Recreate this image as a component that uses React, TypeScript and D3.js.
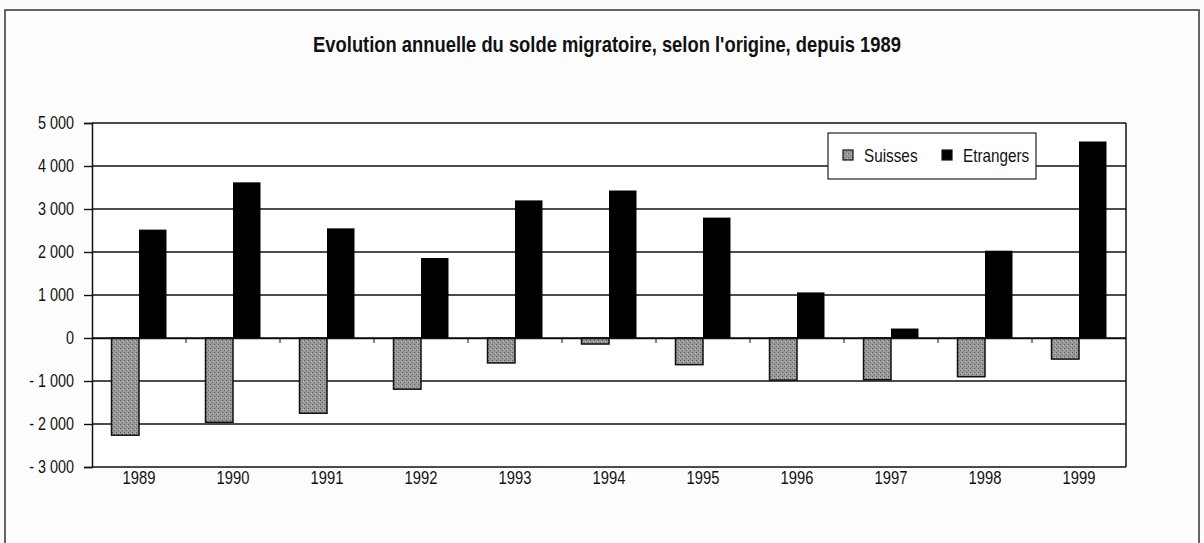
import { useEffect, useRef } from "react";
import * as d3 from "d3";

const years = ["1989", "1990", "1991", "1992", "1993", "1994", "1995", "1996", "1997", "1998", "1999"];
const suisses = [-2260, -1960, -1750, -1190, -580, -140, -620, -980, -970, -900, -490];
const etrangers = [2520, 3620, 2550, 1860, 3200, 3430, 2800, 1060, 220, 2030, 4570];
const yTicks = [5000, 4000, 3000, 2000, 1000, 0, -1000, -2000, -3000];
const seriesNames = ["Suisses", "Etrangers"];

const FONT = "'Liberation Sans', Arial, sans-serif";

const formatTick = (v: number) => {
  const s = d3.format(",")(Math.abs(v)).replace(/,/g, " ");
  return v < 0 ? "- " + s : s;
};

const App = () => {
  const svgRef = useRef<SVGSVGElement | null>(null);

  useEffect(() => {
    const W = 1204;
    const H = 543;
    const plot = { left: 92, right: 1126, top: 123, bottom: 467 };

    const svg = d3.select(svgRef.current).attr("width", W).attr("height", H);
    svg.selectAll("*").remove();

    // narrow text: the original uses a condensed face, squeeze Liberation Sans instead
    const narrow = (g: any, x: number, y: number, txt: string, size: number, sx: number, anchor = "start", bold = false) =>
      g
        .append("text")
        .attr("transform", `translate(${x},${y}) scale(${sx},1)`)
        .attr("text-anchor", anchor)
        .attr("font-family", FONT)
        .attr("font-weight", bold ? "bold" : "normal")
        .attr("font-size", size)
        .attr("fill", "#111")
        .text(txt);

    // stippled grey for Suisses
    const defs = svg.append("defs");
    const pat = defs
      .append("pattern")
      .attr("id", "stipple")
      .attr("width", 4)
      .attr("height", 4)
      .attr("patternUnits", "userSpaceOnUse");
    pat.append("rect").attr("width", 4).attr("height", 4).attr("fill", "#9a9a9a");
    pat.append("rect").attr("x", 0).attr("y", 0).attr("width", 1).attr("height", 1).attr("fill", "#5a5a5a");
    pat.append("rect").attr("x", 2).attr("y", 2).attr("width", 1).attr("height", 1).attr("fill", "#6a6a6a");
    pat.append("rect").attr("x", 3).attr("y", 1).attr("width", 1).attr("height", 1).attr("fill", "#c4c4c4");

    svg.append("rect").attr("width", W).attr("height", H).attr("fill", "#fbfbfb");

    // outer chart frame
    svg
      .append("rect")
      .attr("x", 5)
      .attr("y", 10)
      .attr("width", 1194)
      .attr("height", 560)
      .attr("fill", "#fdfdfd")
      .attr("stroke", "#333")
      .attr("stroke-width", 1.5);

    narrow(svg, 607, 52, "Evolution annuelle du solde migratoire, selon l'origine, depuis 1989", 22, 0.835, "middle", true);

    const x = d3.scaleBand().domain(years).range([plot.left, plot.right]).paddingInner(0).paddingOuter(0);
    const inner = d3
      .scaleBand()
      .domain(seriesNames)
      .range([0, x.bandwidth()])
      .paddingOuter(0.71)
      .paddingInner(0);
    const y = d3.scaleLinear().domain([-3000, 5000]).range([plot.bottom, plot.top]);

    svg
      .append("rect")
      .attr("x", plot.left)
      .attr("y", plot.top)
      .attr("width", plot.right - plot.left)
      .attr("height", plot.bottom - plot.top)
      .attr("fill", "#fff");

    // gridlines
    svg
      .append("g")
      .selectAll("line")
      .data(yTicks)
      .join("line")
      .attr("x1", plot.left)
      .attr("x2", plot.right)
      .attr("y1", (d) => y(d))
      .attr("y2", (d) => y(d))
      .attr("stroke", "#111")
      .attr("stroke-width", 1.4);

    // y axis
    const yAxis = svg
      .append("g")
      .attr("transform", `translate(${plot.left},0)`)
      .call(d3.axisLeft(y).tickValues(yTicks).tickFormat(() => "").tickSize(8));
    yAxis.select(".domain").attr("stroke", "#111").attr("stroke-width", 1.5);
    yAxis.selectAll(".tick line").attr("stroke", "#111").attr("stroke-width", 1.4);
    const yLab = svg.append("g");
    yTicks.forEach((t) => narrow(yLab, 74, y(t) + 6, formatTick(t), 18, 0.8, "end"));

    // right plot border
    svg
      .append("line")
      .attr("x1", plot.right)
      .attr("x2", plot.right)
      .attr("y1", plot.top)
      .attr("y2", plot.bottom)
      .attr("stroke", "#111")
      .attr("stroke-width", 1.5);

    const groups = svg
      .append("g")
      .selectAll("g")
      .data(years)
      .join("g")
      .attr("transform", (d) => `translate(${x(d)},0)`);

    groups
      .append("rect")
      .attr("x", inner("Suisses")!)
      .attr("width", inner.bandwidth())
      .attr("y", (_, i) => Math.min(y(suisses[i]), y(0)))
      .attr("height", (_, i) => Math.abs(y(suisses[i]) - y(0)))
      .attr("fill", "url(#stipple)")
      .attr("stroke", "#111")
      .attr("stroke-width", 1.5);

    groups
      .append("rect")
      .attr("x", inner("Etrangers")!)
      .attr("width", inner.bandwidth())
      .attr("y", (_, i) => Math.min(y(etrangers[i]), y(0)))
      .attr("height", (_, i) => Math.abs(y(etrangers[i]) - y(0)))
      .attr("fill", "#000");

    // category axis on the zero line
    const xAxis = svg
      .append("g")
      .attr("transform", `translate(0,${y(0)})`)
      .call(d3.axisBottom(x).tickSize(0).tickFormat(() => ""));
    xAxis.select(".domain").attr("stroke", "#111").attr("stroke-width", 1.4);
    svg
      .append("g")
      .selectAll("line")
      .data(years.slice(1))
      .join("line")
      .attr("x1", (d) => x(d)!)
      .attr("x2", (d) => x(d)!)
      .attr("y1", y(0))
      .attr("y2", y(0) + 5)
      .attr("stroke", "#111");

    const xLab = svg.append("g");
    years.forEach((d) => narrow(xLab, x(d)! + x.bandwidth() / 2, 484, d, 18, 0.82, "middle"));

    // legend
    const legend = svg.append("g").attr("transform", "translate(828,133)");
    legend
      .append("rect")
      .attr("width", 208)
      .attr("height", 46)
      .attr("fill", "#fff")
      .attr("stroke", "#222")
      .attr("stroke-width", 1.2);
    const items = [
      { name: seriesNames[0], fill: "url(#stipple)", sx: 15, tx: 36 },
      { name: seriesNames[1], fill: "#000", sx: 114, tx: 135 },
    ];
    items.forEach((it) => {
      legend
        .append("rect")
        .attr("x", it.sx)
        .attr("y", 17)
        .attr("width", 10)
        .attr("height", 10)
        .attr("fill", it.fill)
        .attr("stroke", "#111")
        .attr("stroke-width", 1.2);
      narrow(legend, it.tx, 29, it.name, 18, 0.85);
    });
  }, []);

  return <svg ref={svgRef} style={{ position: "absolute", left: 0, top: 0, display: "block" }} />;
};

export default App;
